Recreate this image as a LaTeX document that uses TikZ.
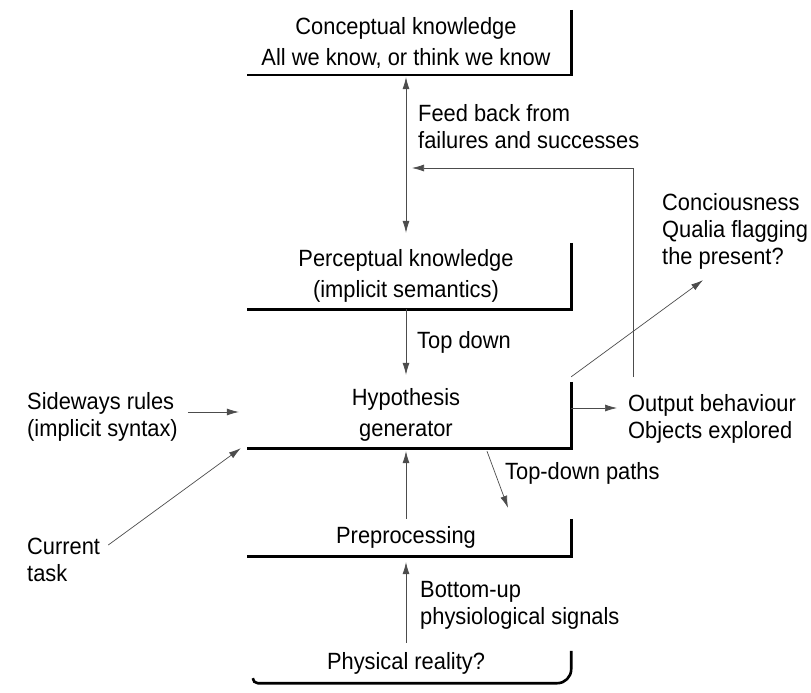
\documentclass[tikz,border=0pt]{standalone}
\usepackage{fontspec}
\setmainfont{Liberation Sans}[FakeStretch=0.93]
\usepackage{tikz}
\usetikzlibrary{arrows.meta}

\begin{document}
\begin{tikzpicture}[x=1pt,y=-1pt,
                box/.style={minimum width=330pt,inner sep=0pt,align=center,font=\fontsize{23.5}{31}\selectfont},
                lbl/.style={inner sep=0pt,align=left,anchor=west,font=\fontsize{23.5}{27}\selectfont},
                rule/.style={line width=2.6pt},
                flow/.style={>={Latex[length=12pt,width=7pt]},line width=0.7pt,black!70}]
                \useasboundingbox (0,0) rectangle (811,693);

                \node(concept) [box,minimum height=65pt] at (406,42.5) {Conceptual knowledge\\All we know, or think we know};
                \node(percept) [box,minimum height=66pt] at (406,276) {Perceptual knowledge\\(implicit semantics)};
                \node(hypo) [box,minimum height=66pt] at (406,415) {Hypothesis\\generator};
                \node(pre) [box,minimum height=37pt] at (406,537.5) {Preprocessing};
                \node(real) [box,minimum height=40pt] at (406,663) {Physical reality?};

                \foreach \b in {concept,percept,hypo,pre}
                    \draw[rule] (\b.north east) -- (\b.south east) -- ([xshift=6pt]\b.south west);
                \draw[rule] ([xshift=12pt,yshift=5pt]real.south west) [rounded corners=5pt] -- ([xshift=12pt]real.south west)
                    [rounded corners=14pt] -- (real.south east) -- ([yshift=-8pt]real.north east);

                \node(feed) [lbl] at (418,127) {Feed back from\\failures and successes};
                \node(consc) [lbl] at (662,231) {Conciousness\\Qualia flagging\\the present?};
                \node(tdown) [lbl] at (417,342) {Top down};
                \node(side) [lbl] at (27,417) {Sideways rules\\(implicit syntax)};
                \node(outp) [lbl] at (628,419) {Output behaviour\\Objects explored};
                \node(tdpath) [lbl] at (505,473) {Top-down paths};
                \node(task) [lbl] at (27,560) {Current\\task};
                \node(botup) [lbl] at (420,605) {Bottom-up\\physiological signals};

                \coordinate(fb) at (633,377);
                \coordinate(fbend) at (412,168);

                \draw[flow,<->,shorten <=2pt,shorten >=10pt] (concept.south) -- (percept.north);
                \draw[flow,->] (fb) |- (fbend);
                \draw[flow,->,shorten >=7pt] (percept.south) -- (hypo.north);
                \draw[flow,->,shorten >=3pt] (pre.north) -- (hypo.south);
                \draw[flow,->,shorten >=6pt] (real.north) -- (pre.south);
                \draw[flow,->] ([yshift=5pt]hypo.north east) -- ([xshift=41pt,yshift=-11pt]consc.south west);
                \draw[flow,->,shorten >=11pt] ([yshift=7pt]hypo.east) coordinate(ho) -- (ho -| outp.west);
                \draw[flow,->,shorten <=10pt,shorten >=2pt] ([yshift=5pt]side.east) coordinate(so) -- (so -| hypo.west);
                \draw[flow,->] ([xshift=8pt,yshift=15pt]task.east) -- (hypo.south west);
                \draw[flow,->] ([xshift=81pt,yshift=-3pt]hypo.south) -- ([xshift=102pt,yshift=11pt]pre.north);
            \end{tikzpicture}
\end{document}
